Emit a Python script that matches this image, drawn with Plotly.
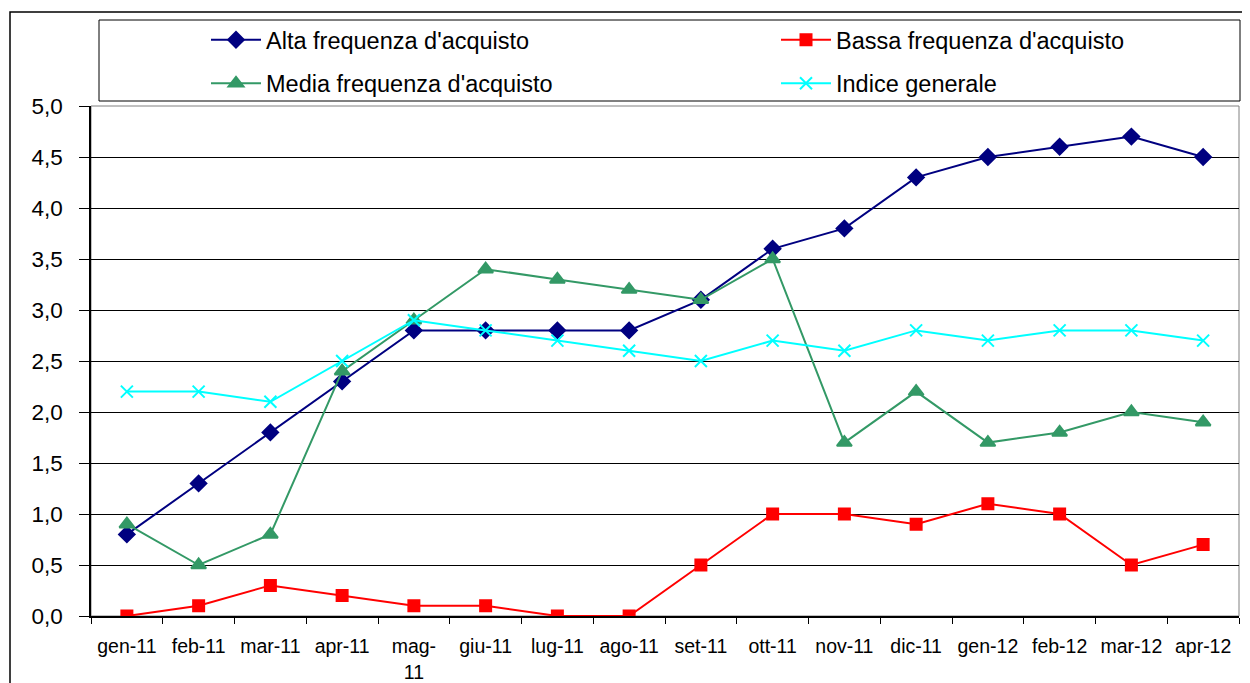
import plotly.graph_objects as go

months = ["gen-11", "feb-11", "mar-11", "apr-11", "mag-11", "giu-11", "lug-11", "ago-11",
          "set-11", "ott-11", "nov-11", "dic-11", "gen-12", "feb-12", "mar-12", "apr-12"]
tick_text = ["gen-11", "feb-11", "mar-11", "apr-11", "mag-<br>11", "giu-11", "lug-11", "ago-11",
             "set-11", "ott-11", "nov-11", "dic-11", "gen-12", "feb-12", "mar-12", "apr-12"]

alta = [0.8, 1.3, 1.8, 2.3, 2.8, 2.8, 2.8, 2.8, 3.1, 3.6, 3.8, 4.3, 4.5, 4.6, 4.7, 4.5]
bassa = [0.0, 0.1, 0.3, 0.2, 0.1, 0.1, 0.0, 0.0, 0.5, 1.0, 1.0, 0.9, 1.1, 1.0, 0.5, 0.7]
media = [0.9, 0.5, 0.8, 2.4, 2.9, 3.4, 3.3, 3.2, 3.1, 3.5, 1.7, 2.2, 1.7, 1.8, 2.0, 1.9]
indice = [2.2, 2.2, 2.1, 2.5, 2.9, 2.8, 2.7, 2.6, 2.5, 2.7, 2.6, 2.8, 2.7, 2.8, 2.8, 2.7]

series = [
    ("Alta frequenza d'acquisto", alta, "#000080", "diamond", 12, "legend"),
    ("Bassa frequenza d'acquisto", bassa, "#FF0000", "square", 11, "legend2"),
    ("Media frequenza d'acquisto", media, "#339966", "triangle-up", 13, "legend"),
    ("Indice generale", indice, "#00FFFF", "x-thin", 12, "legend2"),
]

fig = go.Figure()
for i, (name, vals, color, sym, size, leg) in enumerate(series):
    fig.add_trace(go.Scatter(
        x=months, y=vals, name=name, mode="lines+markers",
        legend=leg, legendgroup="g%d" % i,
        line=dict(color=color, width=2),
        marker=dict(symbol=sym, size=size, color=color,
                    line=dict(color=color, width=2)),
    ))

W, H = 1250, 683
OFF = 8  # page body margin in the browser
# desired plot area in screen pixels
SL, ST, SR, SB = 91, 106, 1239, 616
L, T = SL - OFF, ST - OFF
R, B = W - (SR - OFF), H - (SB - OFF)
pw, ph = W - L - R, H - T - B

def sx(x):
    return (x - OFF - L) / pw

def sy(y):
    return (H - B - (y - OFF)) / ph

shapes = [
    # outer chart frame
    dict(type="rect", xref="paper", yref="paper", x0=sx(10), x1=sx(1270), y0=sy(700), y1=sy(12),
         line=dict(color="black", width=1.5), fillcolor="rgba(0,0,0,0)", layer="below"),
    # legend box
    dict(type="rect", xref="paper", yref="paper", x0=sx(99), x1=sx(1240), y0=sy(101), y1=sy(20),
         line=dict(color="black", width=1), fillcolor="rgba(0,0,0,0)"),
    # plot area border
    dict(type="rect", xref="paper", yref="paper", x0=0, x1=1, y0=0, y1=1,
         line=dict(color="#808080", width=1), fillcolor="rgba(0,0,0,0)", layer="below"),
]

legend_common = dict(
    orientation="v", xanchor="left", yanchor="top",
    font=dict(size=23.5), tracegroupgap=10, itemwidth=50,
    bgcolor="rgba(0,0,0,0)",
)

fig.update_layout(
    width=W, height=H,
    margin=dict(l=L, r=R, t=T, b=B, autoexpand=False),
    paper_bgcolor="white", plot_bgcolor="white",
    font=dict(family="Liberation Sans, Arial, sans-serif", color="black"),
    separators=",.",
    showlegend=True,
    legend=dict(x=sx(206), y=sy(18), **legend_common),
    legend2=dict(x=sx(776), y=sy(18), **legend_common),
    shapes=shapes,
    xaxis=dict(
        type="category", tickmode="array", tickvals=months, ticktext=tick_text,
        tickson="boundaries", ticks="outside", ticklen=6, tickcolor="black",
        showline=True, linecolor="black", linewidth=1.5,
        showgrid=False, tickfont=dict(size=19.5), range=[-0.5, 15.5],
        ticklabelstandoff=12,
    ),
    yaxis=dict(
        range=[0, 5], dtick=0.5, tickformat=".1f",
        ticks="outside", ticklen=10, tickcolor="black",
        showline=True, linecolor="black", linewidth=1.5,
        showgrid=True, gridcolor="black", gridwidth=1,
        tickfont=dict(size=22.5), zeroline=False,
        ticklabelstandoff=12,
    ),
)

fig.write_html("out.html")
